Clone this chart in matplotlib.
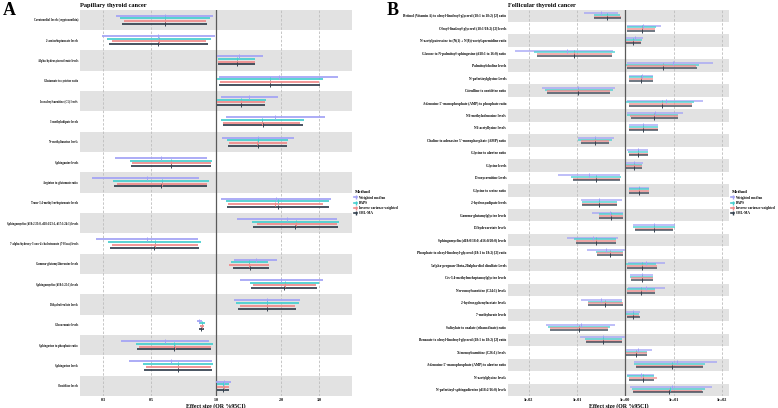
import matplotlib
matplotlib.use('Agg')
import matplotlib.pyplot as plt
from matplotlib.lines import Line2D

# ---- data: (low, estimate, high) odds ratios per method ----
methods = ['Weighted median', 'RAPS', 'Inverse variance weighted', 'CML-MA']
colors = ['#a3a3f5', '#46cfcf', '#f08a8a', '#34414f']

ptc_labels = [
    'Carotenediol levels (cryptoxanthin)',
    '2-aminoheptanoate levels',
    'Alpha-hydroxyisovalerate levels',
    'Glutamate to cysteine ratio',
    'Isovalerylcarnitine (C5) levels',
    '3-methyladipate levels',
    'N-methyltaurine levels',
    'Sphinganine levels',
    'Arginine to glutamate ratio',
    'Trans-3,4-methyleneheptanoate levels',
    'Sphingomyelin (d18:2/23:0, d18:1/23:1, d17:1/24:1) levels',
    '7-alpha-hydroxy-3-oxo-4-cholestenoate (7-Hoca) levels',
    'Gamma-glutamylthreonine levels',
    'Sphingomyelin (d18:1/25:1) levels',
    'Dihydroferulate levels',
    'Glucuronate levels',
    'Sphingosine to phosphate ratio',
    'Sphingosine levels',
    'Ornithine levels',
]

ptc_wm = [(0.344, 0.579, 0.968), (0.296, 0.541, 0.993), (1.014, 1.282, 1.645),
          (1.036, 1.951, 3.660), (1.055, 1.426, 1.936), (1.112, 1.882, 3.185),
          (1.066, 1.560, 2.296), (0.341, 0.555, 0.906), (0.268, 0.481, 0.834),
          (1.055, 1.896, 3.419), (1.247, 2.124, 3.622), (0.279, 0.481, 0.825),
          (1.215, 1.532, 1.922), (1.291, 2.006, 3.138), (1.215, 1.722, 2.456),
          (0.814, 0.834, 0.864), (0.362, 0.581, 0.931), (0.396, 0.617, 0.955),
          (1.000, 1.092, 1.170)]
ptc_raps = [(0.360, 0.579, 0.938), (0.312, 0.543, 0.948), (1.022, 1.247, 1.521),
            (1.007, 1.773, 3.118), (1.007, 1.305, 1.704), (1.058, 1.638, 2.547),
            (1.124, 1.560, 2.154), (0.400, 0.619, 0.961), (0.335, 0.561, 0.931),
            (1.112, 1.931, 3.325), (1.463, 2.339, 3.720), (0.316, 0.522, 0.850),
            (1.173, 1.426, 1.735), (1.436, 2.078, 2.986), (1.238, 1.722, 2.414),
            (0.837, 0.859, 0.886), (0.426, 0.639, 0.965), (0.461, 0.669, 0.965),
            (1.007, 1.081, 1.145)]
ptc_ivw = [(0.375, 0.579, 0.899), (0.330, 0.543, 0.899), (1.022, 1.247, 1.516),
           (1.043, 1.773, 2.986), (1.007, 1.305, 1.686), (1.074, 1.628, 2.441),
           (1.149, 1.548, 2.124), (0.408, 0.619, 0.945), (0.347, 0.561, 0.906),
           (1.133, 1.882, 3.138), (1.543, 2.354, 3.622), (0.330, 0.522, 0.825),
           (1.152, 1.426, 1.754), (1.479, 2.078, 2.904), (1.287, 1.722, 2.321),
           (0.840, 0.859, 0.880), (0.442, 0.644, 0.945), (0.474, 0.669, 0.945),
           (1.014, 1.085, 1.145)]
ptc_cml = [(0.367, 0.579, 0.906), (0.321, 0.541, 0.915), (1.022, 1.247, 1.521),
           (1.036, 1.773, 3.040), (1.014, 1.305, 1.692), (1.081, 1.656, 2.536),
           (1.137, 1.560, 2.131), (0.404, 0.617, 0.948), (0.337, 0.555, 0.912),
           (1.121, 1.936, 3.346), (1.489, 2.329, 3.670), (0.323, 0.518, 0.834),
           (1.195, 1.441, 1.754), (1.447, 2.063, 2.925), (1.260, 1.722, 2.339),
           (0.837, 0.855, 0.877), (0.431, 0.639, 0.951), (0.464, 0.665, 0.958),
           (1.014, 1.081, 1.145)]

ftc_labels = [
    'Retinol (Vitamin A) to oleoyl-linoleoyl-glycerol (18:1 to 18:2) [2] ratio',
    'Oleoyl-linoleoyl-glycerol (18:1/18:2) [2] levels',
    'N-acetylputrescine to (N(1) + N(8))-acetylspermidine ratio',
    'Glucose to N-palmitoyl-sphingosine (d18:1 to 16:0) ratio',
    'Palmitoylcholine levels',
    'N-palmitoylglycine levels',
    'Citrulline to ornithine ratio',
    "Adenosine 5'-monophosphate (AMP) to phosphate ratio",
    'N6-methyladenosine levels',
    'N6-acetyllysine levels',
    "Choline to adenosine 5'-monophosphate (AMP) ratio",
    'Glycine to alanine ratio',
    'Glycine levels',
    'Deoxycarnitine levels',
    'Glycine to serine ratio',
    '2-hydroxyadipate levels',
    'Gamma-glutamylglycine levels',
    'Dihydroorotate levels',
    'Sphingomyelin (d18:0/18:0, d16:0/20:0) levels',
    'Phosphate to oleoyl-linoleoyl-glycerol (18:1 to 18:2) [2] ratio',
    '5alpha-pregnan-3beta,20alpha-diol disulfate levels',
    'Cis-3,4-methyleneheptanoylglycine levels',
    'Nervonoylcarnitine (C24:1) levels',
    '2-hydroxyphenylacetate levels',
    '7-methylurate levels',
    'Salicylate to oxalate (ethanedioate) ratio',
    'Benzoate to oleoyl-linoleoyl-glycerol (18:1 to 18:2) [2] ratio',
    'Ximenoylcarnitine (C26:1) levels',
    "Adenosine 5'-monophosphate (AMP) to alanine ratio",
    'N-acetylglycine levels',
    'N-palmitoyl-sphingadienine (d18:2/16:0) levels',
]

ftc_wm = [(0.140, 0.310, 0.716), (1.10, 2.36, 5.41), (1.03, 1.59, 2.36),
          (0.0052, 0.0612, 0.548), (1.07, 9.86, 66.4), (1.21, 2.19, 3.80),
          (0.0189, 0.103, 0.612), (1.07, 6.96, 40.0), (1.07, 4.12, 15.4),
          (1.18, 2.36, 4.82), (0.103, 0.236, 0.583), (1.10, 1.86, 2.99),
          (1.03, 1.54, 2.36), (0.0404, 0.180, 0.777), (1.21, 1.95, 3.10),
          (0.121, 0.290, 0.842), (0.205, 0.482, 0.909), (1.46, 3.93, 10.8),
          (0.063, 0.211, 0.716), (0.163, 0.398, 0.99), (1.15, 2.68, 6.64),
          (1.25, 2.19, 3.69), (1.15, 2.68, 6.64), (0.121, 0.314, 0.842),
          (1.03, 1.42, 2.01), (0.0228, 0.119, 0.612), (0.115, 0.340, 0.99),
          (1.03, 1.86, 3.52), (1.51, 11.6, 80.3), (1.10, 2.08, 3.93),
          (1.25, 9.14, 61.5)]
ftc_raps = [(0.225, 0.424, 0.777), (1.07, 2.19, 4.32), (1.02, 1.46, 2.19),
            (0.0129, 0.0879, 0.612), (1.02, 6.12, 34.0), (1.21, 2.11, 3.80),
            (0.0217, 0.103, 0.565), (1.03, 5.67, 26.4), (1.10, 3.93, 12.5),
            (1.18, 2.36, 4.69), (0.106, 0.236, 0.523), (1.12, 1.86, 2.99),
            (1.03, 1.54, 2.19), (0.0751, 0.247, 0.803), (1.19, 1.89, 3.10),
            (0.125, 0.290, 0.683), (0.285, 0.506, 0.909), (1.46, 3.93, 10.7),
            (0.0867, 0.247, 0.642), (0.247, 0.482, 0.909), (1.03, 2.19, 4.32),
            (1.25, 2.19, 3.69), (1.07, 2.11, 4.12), (0.171, 0.380, 0.855),
            (1.02, 1.46, 1.95), (0.0255, 0.112, 0.482), (0.146, 0.351, 0.842),
            (1.02, 1.67, 2.77), (1.51, 9.14, 44.7), (1.10, 2.36, 3.93),
            (1.36, 8.42, 44.7)]
ftc_ivw = [(0.225, 0.424, 0.803), (1.10, 2.19, 4.12), (1.02, 1.46, 2.15),
           (0.0147, 0.0879, 0.523), (1.10, 6.12, 29.1), (1.21, 2.11, 3.69),
           (0.0239, 0.103, 0.482), (1.21, 5.67, 23.7), (1.25, 3.93, 12.5),
           (1.21, 2.36, 4.69), (0.119, 0.236, 0.466), (1.18, 1.86, 2.99),
           (1.03, 1.54, 2.19), (0.0838, 0.247, 0.777), (1.21, 1.89, 3.10),
           (0.125, 0.290, 0.664), (0.285, 0.506, 0.909), (1.59, 3.93, 9.86),
           (0.094, 0.247, 0.642), (0.256, 0.482, 0.909), (1.07, 2.19, 4.47),
           (1.31, 2.19, 3.69), (1.07, 2.11, 4.12), (0.171, 0.380, 0.883),
           (1.07, 1.46, 1.95), (0.0276, 0.112, 0.432), (0.154, 0.351, 0.842),
           (1.03, 1.67, 2.77), (1.67, 9.14, 41.2), (1.19, 2.36, 4.60),
           (1.46, 8.15, 38.2)]
ftc_cml = [(0.225, 0.424, 0.803), (1.10, 2.19, 4.20), (1.02, 1.46, 2.15),
           (0.0151, 0.0879, 0.523), (1.10, 6.12, 30.1), (1.21, 2.11, 3.69),
           (0.0239, 0.103, 0.482), (1.21, 5.67, 23.7), (1.29, 3.93, 12.5),
           (1.21, 2.36, 4.69), (0.119, 0.236, 0.466), (1.18, 1.86, 2.99),
           (1.02, 1.54, 2.19), (0.0838, 0.247, 0.777), (1.21, 1.89, 3.10),
           (0.125, 0.290, 0.664), (0.285, 0.506, 0.909), (1.59, 3.93, 9.86),
           (0.094, 0.247, 0.642), (0.256, 0.482, 0.909), (1.07, 2.19, 4.47),
           (1.31, 2.19, 3.69), (1.07, 2.11, 4.12), (0.171, 0.380, 0.883),
           (1.07, 1.46, 2.01), (0.0276, 0.112, 0.432), (0.154, 0.351, 0.842),
           (1.03, 1.67, 2.77), (1.67, 9.14, 41.2), (1.19, 2.36, 3.98),
           (1.46, 8.15, 40.0)]

ptc_ticks = [0.3, 0.5, 1.0, 2.0, 3.0]
ptc_ticklabels = ['0.3', '0.5', '1.0', '2.0', '3.0']
ftc_ticks = [0.01, 0.1, 1, 10, 100]
ftc_ticklabels = ['1e-02', '1e-01', '1e+00', '1e+01', '1e+02']

plt.rcParams['font.family'] = ['Liberation Serif', 'DejaVu Serif']
plt.rcParams['font.weight'] = 'bold'


def forest(ax, labels, series, ticks, ticklabels, xlim, title, lw, lab_fs):
    n = len(labels)
    offsets = [0.2, 0.067, -0.067, -0.2]
    for i in range(n):
        y = n - i
        if i % 2 == 0:
            ax.axhspan(y - 0.5, y + 0.5, color='#e2e2e2', lw=0, zorder=0)
    for t in ticks:
        if t == 1:
            ax.axvline(t, color='#5a5a5a', lw=0.9, zorder=1)
        else:
            ax.axvline(t, color='#bdbdbd', lw=0.6, ls=(0, (3, 2)), zorder=1)
    for vals, col, off in zip(series, colors, offsets):
        ys = [n - i + off for i in range(n)]
        lo = [v[0] for v in vals]
        est = [v[1] for v in vals]
        hi = [v[2] for v in vals]
        ax.hlines(ys, lo, hi, color=col, lw=lw, alpha=0.9, zorder=2)
        ax.plot(est, ys, ls='none', marker='|', ms=2.5, mew=0.7,
                color=col, zorder=3)
    ax.set_xscale('log')
    ax.set_xlim(*xlim)
    ax.set_ylim(0.5, n + 0.5)
    ax.set_yticks([n - i for i in range(n)])
    ax.set_yticklabels(labels, fontsize=lab_fs, fontweight='bold')
    ax.set_xticks(ticks)
    ax.set_xticklabels(ticklabels, fontsize=3.0, fontweight='bold')
    ax.minorticks_off()
    ax.tick_params(length=0, pad=1.5)
    for s in ax.spines.values():
        s.set_visible(False)
    ax.set_xlabel('Effect size (OR %95CI)', fontsize=4.2, fontweight='bold',
                  labelpad=0.5)
    ax.set_title(title, loc='left', fontsize=4.6, fontweight='bold', pad=2)
    handles = [Line2D([0], [0], color=c, lw=1.2, marker='|', ms=2.5)
               for c in colors]
    leg = ax.legend(handles, methods, title='Method', loc='center left',
                    bbox_to_anchor=(1.0, 0.5), frameon=False, fontsize=2.5,
                    title_fontsize=3.4, handlelength=0.7, labelspacing=0.35,
                    handletextpad=0.6, borderaxespad=0.3)
    leg._legend_box.align = 'left'
    leg.get_title().set_fontweight('bold')


fig = plt.figure(figsize=(7.78, 4.08), dpi=100)
ax_a = fig.add_axes([0.1028, 0.0294, 0.3496, 0.9473])
ax_b = fig.add_axes([0.6533, 0.0294, 0.2837, 0.9473])

forest(ax_a, ptc_labels, [ptc_wm, ptc_raps, ptc_ivw, ptc_cml],
       ptc_ticks, ptc_ticklabels, (0.2346, 4.263), 'Papillary thyroid cancer',
       1.4, 2.05)
forest(ax_b, ftc_labels, [ftc_wm, ftc_raps, ftc_ivw, ftc_cml],
       ftc_ticks, ftc_ticklabels, (0.00378, 140.3), 'Follicular thyroid cancer',
       1.1, 2.5)

fig.text(0.004, 0.995, 'A', fontsize=13, fontweight='bold', va='top')
fig.text(0.497, 0.995, 'B', fontsize=13, fontweight='bold', va='top')

fig.savefig('out.png', dpi=100)
